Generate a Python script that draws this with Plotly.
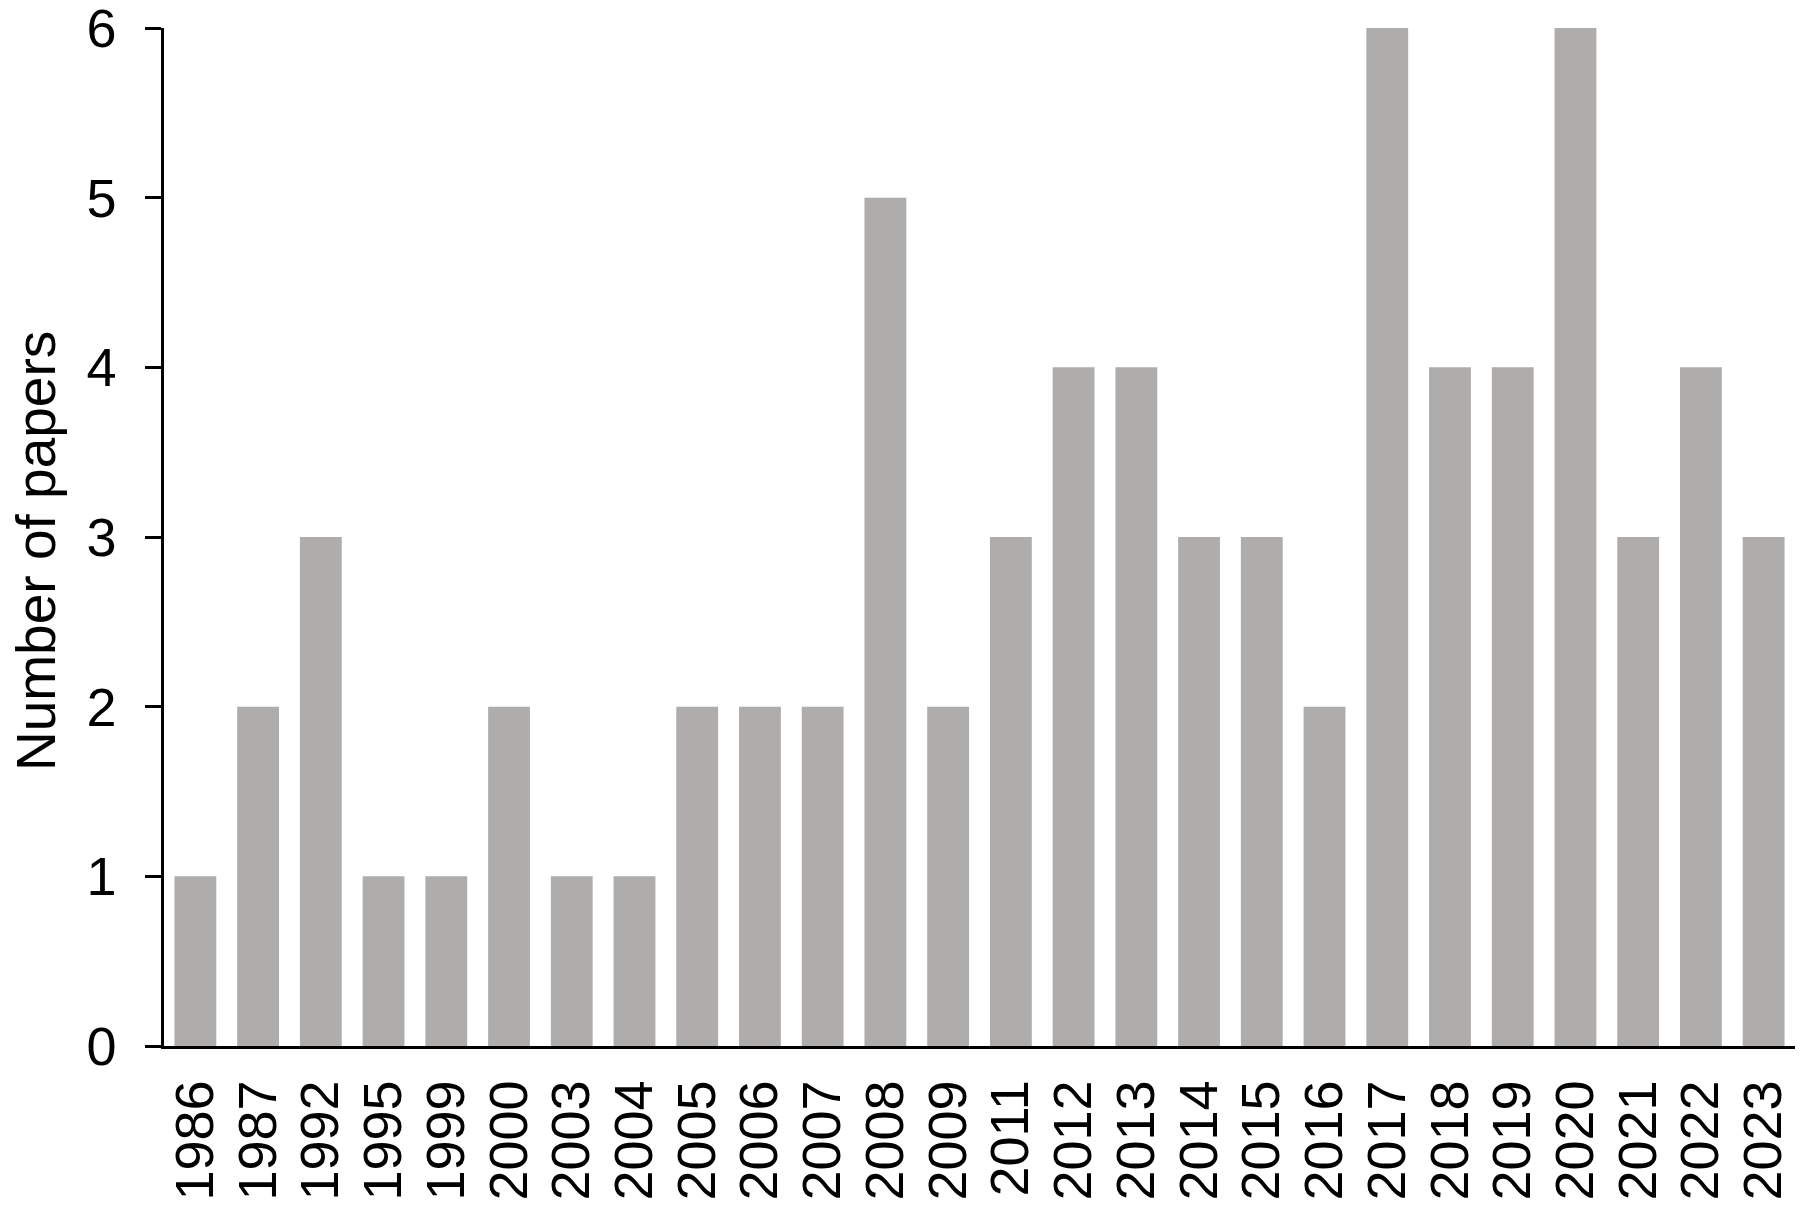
import plotly.graph_objects as go

years = ["1986", "1987", "1992", "1995", "1999", "2000", "2003", "2004", "2005", "2006",
         "2007", "2008", "2009", "2011", "2012", "2013", "2014", "2015", "2016", "2017",
         "2018", "2019", "2020", "2021", "2022", "2023"]
papers = [1, 2, 3, 1, 1, 2, 1, 1, 2, 2,
          2, 5, 2, 3, 4, 4, 3, 3, 2, 6,
          4, 4, 6, 3, 4, 3]
y_ticks = [0, 1, 2, 3, 4, 5, 6]
y_title = "Number of papers"

FONT = "Liberation Sans, Arial, sans-serif"
FS = 54

# the page body has an 8px margin; figure sized to fit the window
W, H = 1788, 1196
L, T = 156, 20
R = W - (1795 - 8)
B = H - (1046 - 8)
plot_w = W - L - R
plot_h = H - T - B

fig = go.Figure(go.Bar(x=years, y=papers, marker=dict(color="#AFACAC", line=dict(width=0))))

fig.update_layout(
    width=W, height=H,
    margin=dict(l=L, r=R, t=T, b=B, autoexpand=False),
    plot_bgcolor="white", paper_bgcolor="white",
    bargap=0.333,
    showlegend=False,
    font=dict(family=FONT, size=FS, color="black"),
)
fig.update_xaxes(
    type="category", showline=True, linecolor="black", linewidth=2.5,
    ticks="", tickangle=-90, tickfont=dict(size=FS), showgrid=False,
    tickmode="array", tickvals=years, ticktext=years,
    ticklabelstandoff=10, automargin=False, ticklabeloverflow="allow",
)
fig.update_yaxes(
    range=[0, 6], tickmode="array", tickvals=y_ticks,
    showline=True, linecolor="black", linewidth=2.5,
    ticks="outside", ticklen=16, tickwidth=2.5, tickcolor="black",
    showgrid=False, zeroline=False, tickfont=dict(size=FS),
    ticklabelstandoff=18, automargin=False, ticklabeloverflow="allow",
)
fig.add_annotation(
    text=y_title, textangle=-90, showarrow=False,
    xref="paper", yref="paper",
    x=(28 - L) / plot_w, y=(H - B - 543) / plot_h,
    xanchor="center", yanchor="middle",
    font=dict(size=55, family=FONT, color="black"),
)

fig.write_html("out.html")
